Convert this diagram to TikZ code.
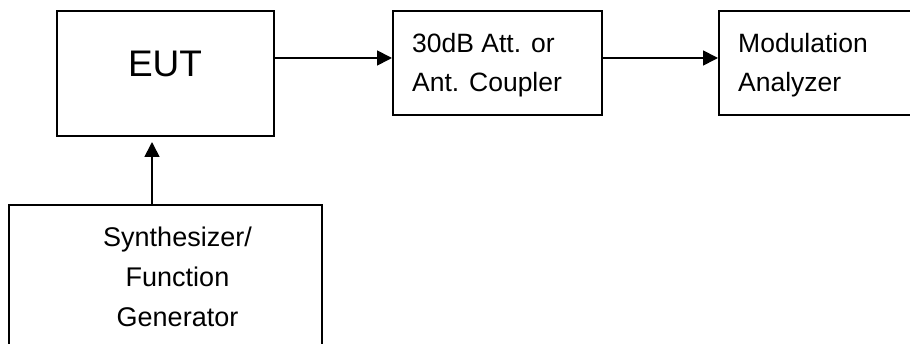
\documentclass[tikz,border=0pt]{standalone}
\usepackage{fontspec}
\setmainfont{Liberation Sans}
\usetikzlibrary{arrows.meta}
\begin{document}
\begin{tikzpicture}[x=1pt,y=-1pt,
  blockbox/.style={draw=black,line width=1.7pt,inner sep=0pt,anchor=north west},
  lbl/.style={inner sep=0pt,anchor=base west,font=\fontsize{26.5}{39.5}\selectfont},
  clbl/.style={inner sep=0pt,anchor=base,font=\fontsize{27}{40}\selectfont},
  conn/.style={line width=1.7pt,-{Triangle[length=15pt,width=15pt]}}]
\useasboundingbox (0,0) rectangle (910,344);
\clip (0,0) rectangle (910,344);
\node[blockbox,minimum width=217pt,minimum height=125pt] (eut) at (56,10) {};
\node[blockbox,minimum width=209pt,minimum height=104pt] (att) at (392,10) {};
\node[blockbox,minimum width=230pt,minimum height=104pt] (mod) at (718,10) {};
\node[blockbox,minimum width=313pt,minimum height=160pt] (syn) at (8,204) {};
\node[inner sep=0pt,anchor=base,font=\fontsize{37}{44}\selectfont] (eutt) at (165,76.7) {EUT};
\node[lbl] (att1) at (412,52.5) {30dB Att. or};
\node[lbl] (att2) at (412,92) {Ant. Coupler};
\node[lbl] (mod1) at (738,52.5) {Modulation};
\node[lbl] (mod2) at (738,92) {Analyzer};
\node[clbl] (syn1) at (177.5,247) {Synthesizer/};
\node[clbl] (syn2) at (177.5,287) {Function};
\node[clbl] (syn3) at (177.5,327) {Generator};
\coordinate (eutin) at (152,142);
\draw[conn] (eut.east|-0,58) -- (att.west|-0,58);
\draw[conn] (att.east|-0,58) -- (mod.west|-0,58);
\draw[conn] (syn.north-|eutin) -- (eutin);
\end{tikzpicture}
\end{document}
